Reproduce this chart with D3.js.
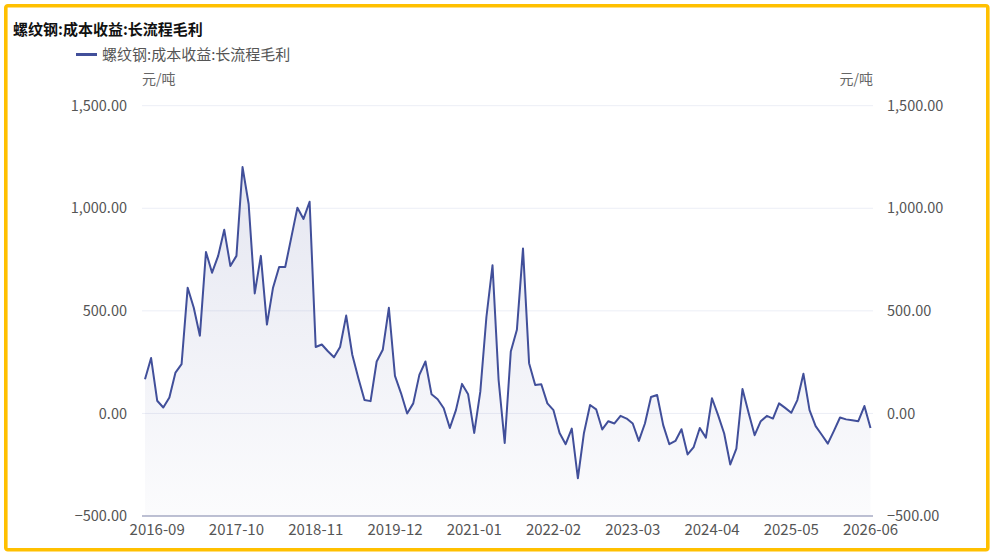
<!DOCTYPE html>
<html>
<head>
<meta charset="utf-8">
<script src="https://cdn.jsdelivr.net/npm/d3@7"></script>
<style>
  body { margin: 0; background: #fff; }
  text { font-family: "Noto Sans CJK SC", "Noto Sans", sans-serif; }
</style>
</head>
<body>
<div id="canvas"></div>
<script>
"use strict"

/* ---------- data ---------- */
let seriesName = "螺纹钢:成本收益:长流程毛利";
let unitLabel = "元/吨";

// monthly, first point 2016-07, last point 2026-06
let firstMonth = new Date(2016, 6, 1);
let lastMonth = new Date(2026, 5, 1);

let profit = [
  167, 270, 62, 29, 78, 199, 240, 613, 515, 379,
  787, 686, 768, 895, 719, 768, 1201, 1021, 585, 768,
  433, 613, 714, 714, 858, 1003, 948, 1032, 324, 336,
  303, 274, 324, 477, 286, 172, 65, 60, 253, 310,
  515, 183, 98, 0, 49, 188, 253, 93, 69, 25,
  -71, 16, 144, 93, -95, 106, 470, 722, 163, -144,
  302, 408, 804, 245, 139, 142, 49, 16, -95, -150,
  -74, -316, -95, 41, 20, -78, -38, -49, -12, -25,
  -49, -134, -49, 80, 90, -57, -150, -134, -77, -200,
  -164, -71, -118, 74, -8, -98, -249, -172, 119, 3,
  -106, -38, -12, -25, 49, 27, 3, 65, 193, 16,
  -62, -104, -147, -85, -20, -29, -33, -38, 36, -71
];

let xTickLabels = ["2016-09", "2017-10", "2018-11", "2019-12", "2021-01",
                   "2022-02", "2023-03", "2024-04", "2025-05", "2026-06"];
let yTicks = [-500, 0, 500, 1000, 1500];

let fmtMonth = d3.timeFormat("%Y-%m");
let months = d3.timeMonth.range(firstMonth, d3.timeMonth.offset(lastMonth, 1)).map(fmtMonth);

/* ---------- canvas ---------- */
let drawing = d3.select("#canvas")
    .append("svg")
    .attr("width", 993)
    .attr("height", 555);

let border = drawing.append("rect")
    .attr("x", 5.8).attr("y", 5.8)
    .attr("width", 982).attr("height", 544)
    .attr("rx", 2)
    .attr("fill", "white")
    .attr("stroke", "#FFC000")
    .attr("stroke-width", 3.6);

/* ---------- scales ---------- */
let plotLeft = 142, plotRight = 873;
let x = d3.scalePoint().domain(months).range([145, 870.5]);
let y = d3.scaleLinear().domain([-500, 1500]).range([516, 105.7]);
let fmtVal = d3.format(",.2f");

/* ---------- grid ---------- */
drawing.append("g")
  .selectAll("line")
  .data(yTicks.filter(d => d > -500))
  .join("line")
    .attr("x1", plotLeft).attr("x2", plotRight)
    .attr("y1", d => y(d)).attr("y2", d => y(d))
    .attr("stroke", "#eceef6")
    .attr("stroke-width", 1);

/* ---------- area + line ---------- */
let grad = drawing.append("defs").append("linearGradient")
    .attr("id", "fade")
    .attr("x1", 0).attr("y1", 0).attr("x2", 0).attr("y2", 1);
grad.append("stop").attr("offset", "0%").attr("stop-color", "#46519a").attr("stop-opacity", 0.14);
grad.append("stop").attr("offset", "100%").attr("stop-color", "#46519a").attr("stop-opacity", 0.02);

let area = d3.area()
    .x((d, i) => x(months[i]))
    .y0(y(-500))
    .y1(d => y(d));

drawing.append("path")
    .datum(profit)
    .attr("d", area)
    .attr("fill", "url(#fade)");

let line = d3.line()
    .x((d, i) => x(months[i]))
    .y(d => y(d));

drawing.append("path")
    .datum(profit)
    .attr("d", line)
    .attr("fill", "none")
    .attr("stroke", "#414f9a")
    .attr("stroke-width", 2)
    .attr("stroke-linejoin", "round");

/* ---------- x axis ---------- */
drawing.append("line")
    .attr("x1", plotLeft).attr("x2", plotRight)
    .attr("y1", y(-500)).attr("y2", y(-500))
    .attr("stroke", "#7c82a8")
    .attr("stroke-width", 1.2);

drawing.append("g")
  .selectAll("text")
  .data(xTickLabels)
  .join("text")
    .attr("x", d => x(d))
    .attr("y", 535)
    .attr("text-anchor", "middle")
    .attr("font-size", 15)
    .attr("fill", "#555")
    .text(d => d);

/* ---------- y axes (left + right, same scale) ---------- */
drawing.append("g")
  .selectAll("text")
  .data(yTicks)
  .join("text")
    .attr("x", 127)
    .attr("y", d => y(d))
    .attr("dy", "0.35em")
    .attr("text-anchor", "end")
    .attr("font-size", 14.5)
    .attr("fill", "#555")
    .text(d => fmtVal(d));

drawing.append("g")
  .selectAll("text")
  .data(yTicks)
  .join("text")
    .attr("x", 887)
    .attr("y", d => y(d))
    .attr("dy", "0.35em")
    .attr("text-anchor", "start")
    .attr("font-size", 14.5)
    .attr("fill", "#555")
    .text(d => fmtVal(d));

let unitLeft = drawing.append("text")
    .attr("x", 142).attr("y", 84)
    .attr("font-size", 14)
    .attr("fill", "#666")
    .text(unitLabel);

let unitRight = drawing.append("text")
    .attr("x", 873).attr("y", 84)
    .attr("text-anchor", "end")
    .attr("font-size", 14)
    .attr("fill", "#666")
    .text(unitLabel);

/* ---------- title + legend ---------- */
let title = drawing.append("text")
    .attr("x", 13).attr("y", 35)
    .attr("font-size", 15)
    .attr("font-weight", "bold")
    .attr("fill", "#111")
    .text(seriesName);

let legendMark = drawing.append("line")
    .attr("x1", 76).attr("x2", 97)
    .attr("y1", 54.5).attr("y2", 54.5)
    .attr("stroke", "#414f9a")
    .attr("stroke-width", 3);

let legendText = drawing.append("text")
    .attr("x", 102).attr("y", 59.5)
    .attr("font-size", 15)
    .attr("fill", "#555")
    .text(seriesName);
</script>
</body>
</html>
